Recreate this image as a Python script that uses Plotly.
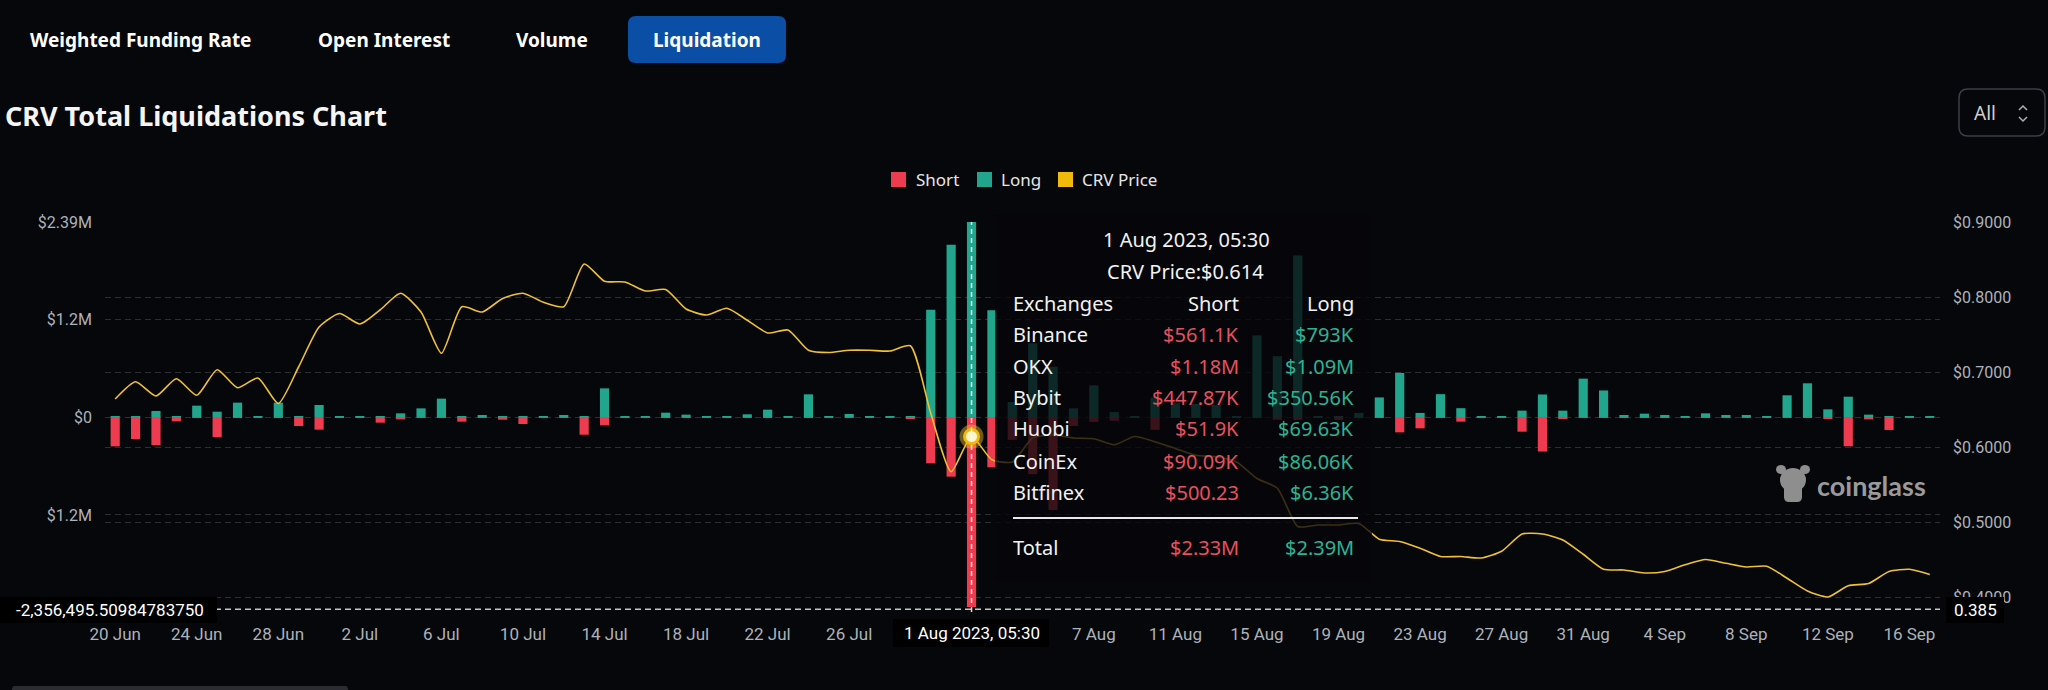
import plotly.graph_objects as go
import pandas as pd

# ---------------- data ----------------
dates = pd.date_range("2023-06-20", periods=90, freq="D")

# long / short liquidations in $K (short drawn downward)
long_k = [8, 10, 74, 6, 139, 65, 176, 12, 176, 8,
          147, 4, 12, 6, 45, 106, 225, 4, 18, 3,
          10, 12, 15, 8, 351, 2, 8, 53, 29, 12,
          8, 33, 90, 8, 278, 2, 37, 3, 6, 3,
          1316, 2112, 2390, 1307, 184, 903, 617, 106, 388, 60,
          10, 237, 168, 160, 147, 8, 1000, 745, 1980, 10,
          8, 50, 240, 540, 50, 280, 108, 12, 10, 78,
          276, 78, 470, 325, 16, 41, 25, 5, 45, 15,
          20, 5, 266, 413, 94, 249, 29, 10, 12, 12]
short_k = [360, 270, 343, 53, 8, 245, 4, 6, 5, 110,
           155, 3, 5, 69, 29, 3, 4, 57, 3, 33,
           86, 2, 4, 217, 102, 2, 4, 3, 4, 6,
           10, 3, 2, 3, 3, 2, 3, 2, 3, 25,
           568, 731, 2330, 617, 280, 700, 1140, 110, 60, 45,
           6, 158, 8, 8, 5, 6, 5, 33, 35, 6,
           35, 4, 3, 188, 139, 3, 57, 3, 3, 180,
           423, 16, 3, 2, 3, 2, 3, 8, 3, 5,
           3, 3, 3, 3, 25, 359, 29, 159, 4, 3]
price = [0.664, 0.687, 0.668, 0.691, 0.669, 0.703, 0.679, 0.692, 0.658, 0.707,
         0.760, 0.778, 0.764, 0.783, 0.805, 0.780, 0.725, 0.787, 0.780, 0.798,
         0.805, 0.793, 0.787, 0.844, 0.821, 0.820, 0.808, 0.810, 0.784, 0.776,
         0.785, 0.769, 0.752, 0.756, 0.729, 0.726, 0.729, 0.729, 0.728, 0.735,
         0.645, 0.567, 0.614, 0.583, 0.580, 0.612, 0.616, 0.612, 0.611, 0.603,
         0.614, 0.607, 0.598, 0.589, 0.587, 0.580, 0.558, 0.545, 0.494, 0.496,
         0.496, 0.498, 0.477, 0.474, 0.465, 0.454, 0.454, 0.452, 0.461, 0.484,
         0.484, 0.476, 0.457, 0.437, 0.436, 0.432, 0.434, 0.443, 0.450, 0.445,
         0.440, 0.441, 0.425, 0.408, 0.400, 0.415, 0.418, 0.434, 0.437, 0.430]

x_tick_vals = ["2023-06-20", "2023-06-24", "2023-06-28", "2023-07-02", "2023-07-06",
               "2023-07-10", "2023-07-14", "2023-07-18", "2023-07-22", "2023-07-26",
               "2023-08-07", "2023-08-11", "2023-08-15", "2023-08-19", "2023-08-23",
               "2023-08-27", "2023-08-31", "2023-09-04", "2023-09-08", "2023-09-12",
               "2023-09-16"]
x_tick_text = ["20 Jun", "24 Jun", "28 Jun", "2 Jul", "6 Jul", "10 Jul", "14 Jul",
               "18 Jul", "22 Jul", "26 Jul", "7 Aug", "11 Aug", "15 Aug", "19 Aug",
               "23 Aug", "27 Aug", "31 Aug", "4 Sep", "8 Sep", "12 Sep", "16 Sep"]
y_left_vals = [2390000, 1200000, 0, -1200000]
y_left_text = ["$2.39M", "$1.2M", "$0", "$1.2M"]
y_right_vals = [0.4, 0.5, 0.6, 0.7, 0.8, 0.9]
y_right_text = ["$0.4000", "$0.5000", "$0.6000", "$0.7000", "$0.8000", "$0.9000"]

hover_idx = 42
hover_label = "1 Aug 2023, 05:30"
hover_price_text = "CRV Price:$0.614"
exchanges = ["Binance", "OKX", "Bybit", "Huobi", "CoinEx", "Bitfinex"]
ex_short = ["$561.1K", "$1.18M", "$447.87K", "$51.9K", "$90.09K", "$500.23"]
ex_long = ["$793K", "$1.09M", "$350.56K", "$69.63K", "$86.06K", "$6.36K"]
total_short = "$2.33M"
total_long = "$2.39M"
cross_left_value = -2356495.50984783750
cross_left_text = "-2,356,495.50984783750"
cross_right_text = "0.385"

tabs = ["Weighted Funding Rate", "Open Interest", "Volume", "Liquidation"]

# ---------------- style ----------------
BG = "#05070b"
RED = "#ef3b50"
TEAL = "#21a68d"
YEL = "#f0c132"
GRID = "rgba(255,255,255,0.16)"
AX = "#aeb2b9"
FONT = "Roboto"
UI = "Noto Sans"

W, H = 2048, 690
L, R, T, B = 105, 1940, 222, 612


def PX(px):
    return (px - L) / (R - L)


def PY(py):
    return (B - py) / (B - T)


def P(x, y):
    return f"{PX(x):.6f},{PY(y):.6f}"


def rrect(x0, y0, x1, y1, r):
    return (f"M {P(x0 + r, y0)} L {P(x1 - r, y0)} Q {P(x1, y0)} {P(x1, y0 + r)} "
            f"L {P(x1, y1 - r)} Q {P(x1, y1)} {P(x1 - r, y1)} L {P(x0 + r, y1)} "
            f"Q {P(x0, y1)} {P(x0, y1 - r)} L {P(x0, y0 + r)} Q {P(x0, y0)} {P(x0 + r, y0)} Z")


fig = go.Figure()
day_ms = 86400000
fig.add_trace(go.Bar(x=dates, y=[v * 1000 for v in long_k], marker_color=TEAL,
                     marker_line_width=0, width=0.45 * day_ms, name="Long"))
fig.add_trace(go.Bar(x=dates, y=[-v * 1000 for v in short_k], marker_color=RED,
                     marker_line_width=0, width=0.45 * day_ms, name="Short"))
fig.add_trace(go.Scatter(x=dates, y=price, yaxis="y2", mode="lines",
                         line=dict(color=YEL, width=1.6, shape="spline", smoothing=0.6),
                         name="CRV Price"))
# hovered point
fig.add_trace(go.Scatter(x=[dates[hover_idx]], y=[price[hover_idx]], yaxis="y2", mode="markers",
                         marker=dict(size=24, color="rgba(240,190,40,0.45)", line_width=0)))
fig.add_trace(go.Scatter(x=[dates[hover_idx]], y=[price[hover_idx]], yaxis="y2", mode="markers",
                         marker=dict(size=14, color="#fff6cf", line=dict(color="#f0b90b", width=3))))

shapes = []
annotations = []


def ann(text, px, py, size, color, xanchor="center", family=UI, weight="normal"):
    annotations.append(dict(text=text, x=PX(px), y=PY(py), xref="paper", yref="paper",
                            xanchor=xanchor, yanchor="middle", showarrow=False,
                            font=dict(size=size, color=color, family=family, weight=weight)))


# crosshair lines
shapes.append(dict(type="line", xref="x", yref="paper", x0=dates[hover_idx], x1=dates[hover_idx],
                   y0=0, y1=1, line=dict(color="rgba(255,255,255,0.85)", width=1.5, dash="5px,4px"),
                   layer="above"))
shapes.append(dict(type="line", xref="paper", yref="y", x0=0, x1=1, y0=cross_left_value,
                   y1=cross_left_value, line=dict(color="rgba(230,230,230,0.85)", width=1.5,
                                                  dash="6px,4px"), layer="above"))

# tooltip
shapes.append(dict(type="rect", xref="paper", yref="paper", x0=PX(995), x1=PX(1372),
                   y0=PY(582), y1=PY(214), fillcolor="rgba(6,7,10,0.78)", line_width=0,
                   layer="above"))
shapes.append(dict(type="line", xref="paper", yref="paper", x0=PX(1013), x1=PX(1358),
                   y0=PY(518), y1=PY(518), line=dict(color="#e8e8e8", width=2), layer="above"))
TS = 20
ann(hover_label, 1186, 240, TS, "#f2f2f2")
ann(hover_price_text, 1185, 271, TS, "#f2f2f2")
ann("Exchanges", 1011, 303, TS, "#f2f2f2", "left")
ann("Short", 1241, 303, TS, "#f2f2f2", "right")
ann("Long", 1356, 303, TS, "#f2f2f2", "right")
row_y = [334, 366, 397, 428, 461, 492]
for name, s, lg, yy in zip(exchanges, ex_short, ex_long, row_y):
    ann(name, 1011, yy, TS, "#f2f2f2", "left")
    ann(s, 1241, yy, TS, "#e8505f", "right")
    ann(lg, 1356, yy, TS, "#2bb394", "right")
ann("Total", 1011, 547, TS, "#f2f2f2", "left")
ann(total_short, 1241, 547, TS, "#e8505f", "right")
ann(total_long, 1356, 547, TS, "#2bb394", "right")

# crosshair value boxes
shapes.append(dict(type="rect", xref="paper", yref="paper", x0=PX(0), x1=PX(217),
                   y0=PY(623), y1=PY(597), fillcolor="#000000", line_width=0, layer="above"))
ann(cross_left_text, 110, 610, 17, "#ffffff", family=FONT)
shapes.append(dict(type="rect", xref="paper", yref="paper", x0=PX(1946), x1=PX(2004),
                   y0=PY(623), y1=PY(597), fillcolor="#000000", line_width=0, layer="above"))
ann(cross_right_text, 1975, 610, 17, "#ffffff", family=FONT)
shapes.append(dict(type="rect", xref="paper", yref="paper", x0=PX(893), x1=PX(1049),
                   y0=PY(647), y1=PY(619), fillcolor="#000000", line_width=0, layer="above"))
annotations.append(dict(text=hover_label, x=dates[hover_idx], y=PY(633), xref="x", yref="paper",
                        xanchor="center", yanchor="middle", showarrow=False,
                        font=dict(size=17, color="#ffffff", family=FONT)))

# legend
leg = [("Short", RED, 891, 914), ("Long", TEAL, 977, 999), ("CRV Price", "#f0b90b", 1058, 1080)]
for name, col, sx, tx in leg:
    shapes.append(dict(type="rect", xref="paper", yref="paper", x0=PX(sx), x1=PX(sx + 15),
                       y0=PY(187), y1=PY(172), fillcolor=col, line_width=0))
    ann(name, tx, 180, 17, "#e6e6e6", "left")

# top tabs
shapes.append(dict(type="path", xref="paper", yref="paper", path=rrect(628, 16, 786, 63, 8),
                   fillcolor="#0b4ea6", line_width=0))
tab_x = [140, 384, 552, 707]
for t, tx in zip(tabs, tab_x):
    ann(t, tx, 40, 19, "#ffffff", weight="bold")

# title
ann("CRV Total Liquidations Chart", 3, 115, 27, "#f5f5f5", "left", weight="bold")

# All selector
shapes.append(dict(type="path", xref="paper", yref="paper", path=rrect(1959, 89, 2045, 136, 9),
                   fillcolor="rgba(0,0,0,0)", line=dict(color="#3b3f47", width=1.5)))
ann("All", 1985, 113, 19, "#d0d0d0")
shapes.append(dict(type="path", xref="paper", yref="paper",
                   path=f"M {P(2019, 110)} L {P(2023, 106)} L {P(2027, 110)}",
                   line=dict(color="#b0b0b0", width=1.5)))
shapes.append(dict(type="path", xref="paper", yref="paper",
                   path=f"M {P(2019, 117)} L {P(2023, 121)} L {P(2027, 117)}",
                   line=dict(color="#b0b0b0", width=1.5)))

# watermark
shapes.append(dict(type="circle", xref="paper", yref="paper", x0=PX(1780), x1=PX(1806),
                   y0=PY(492), y1=PY(468), fillcolor="#8e8e8e", line_width=0))
shapes.append(dict(type="path", xref="paper", yref="paper", path=rrect(1784, 484, 1802, 502, 5),
                   fillcolor="#8e8e8e", line_width=0))
shapes.append(dict(type="circle", xref="paper", yref="paper", x0=PX(1776), x1=PX(1786),
                   y0=PY(474), y1=PY(465), fillcolor="#8e8e8e", line_width=0))
shapes.append(dict(type="circle", xref="paper", yref="paper", x0=PX(1800), x1=PX(1810),
                   y0=PY(474), y1=PY(465), fillcolor="#8e8e8e", line_width=0))
ann("coinglass", 1871, 485, 27, "#9a9a9a", weight="bold", family="Lato")

# bottom scrollbar
shapes.append(dict(type="path", xref="paper", yref="paper", path=rrect(12, 686, 348, 694, 3),
                   fillcolor="#2a2c31", line_width=0))

fig.update_layout(
    width=W, height=H, autosize=False,
    margin=dict(l=L, r=W - R, t=T, b=H - B, pad=0),
    paper_bgcolor=BG, plot_bgcolor=BG,
    showlegend=False, barmode="relative", hovermode=False,
    font=dict(family=FONT, color=AX, size=16),
    xaxis=dict(type="date", range=["2023-06-19 12:00", "2023-09-17 12:00"],
               tickvals=x_tick_vals, ticktext=x_tick_text, showgrid=False, showline=False,
               zeroline=False, ticks="", tickfont=dict(size=17, color=AX),
               ticklabelstandoff=10),
    yaxis=dict(range=[-2390000, 2390000], tickvals=y_left_vals, ticktext=y_left_text,
               showgrid=True, gridcolor=GRID, griddash="6px,4px", gridwidth=1,
               zeroline=False, showline=False, ticks="", tickfont=dict(size=16, color=AX),
               ticklabelstandoff=12),
    yaxis2=dict(range=[0.38, 0.9], overlaying="y", side="right", tickvals=y_right_vals,
                ticktext=y_right_text, showgrid=True, gridcolor=GRID, griddash="6px,4px",
                gridwidth=1, zeroline=False, showline=False, ticks="",
                tickfont=dict(size=16, color=AX), ticklabelstandoff=12),
    shapes=shapes, annotations=annotations,
)

fig.write_html("out.html", config={"displayModeBar": False})
